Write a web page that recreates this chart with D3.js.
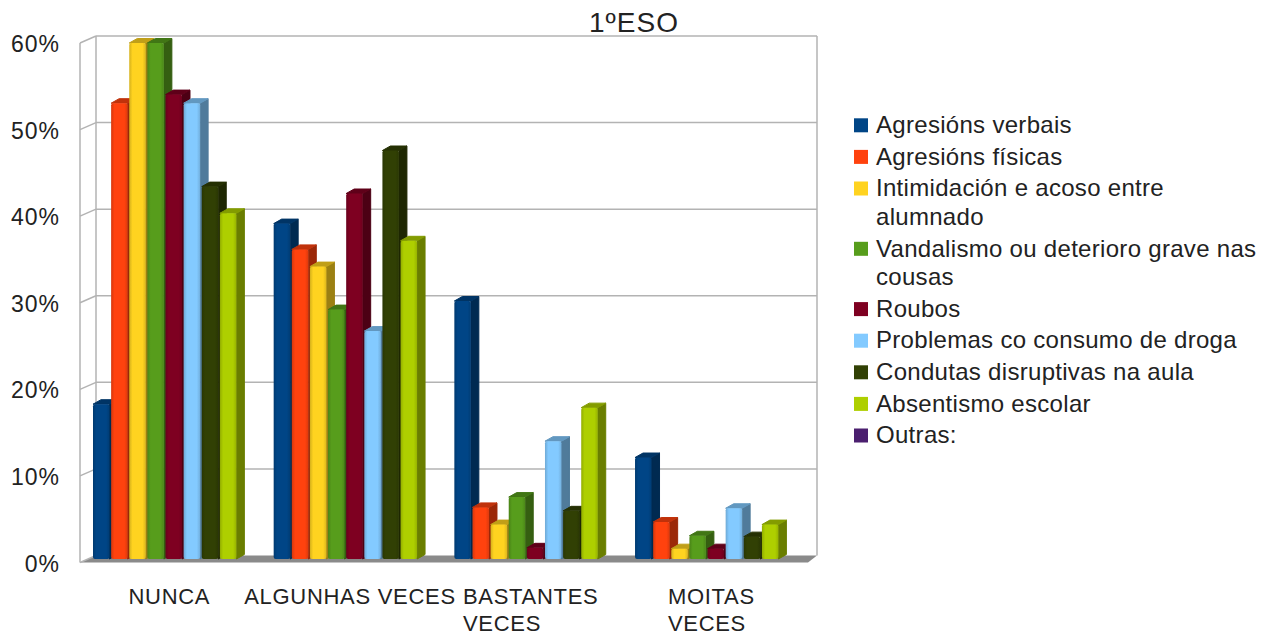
<!DOCTYPE html>
<html>
<head>
<meta charset="utf-8">
<script src="https://cdn.jsdelivr.net/npm/d3@7"></script>
<style>
  body { margin: 0; background: #fff; }
  text { font-family: "Liberation Sans", Arial, sans-serif; fill: #222; }
</style>
</head>
<body>
<div class="chart"></div>
<script>
var categories = [["NUNCA"], ["ALGUNHAS VECES"], ["BASTANTES", "VECES"], ["MOITAS", "VECES"]];
var seriesNames = ["Agresións verbais", "Agresións físicas", "Intimidación e acoso entre alumnado",
  "Vandalismo ou deterioro grave nas cousas", "Roubos", "Problemas co consumo de droga",
  "Condutas disruptivas na aula", "Absentismo escolar", "Outras:"];
var palette = ["#004586", "#ff420e", "#ffd320", "#579d1c", "#7e0021", "#83caff", "#314004", "#aecf00", "#4b1f6f"];

// percent per category, one array per series
var agresionsVerbais   = [18, 39, 30, 11.8];
var agresionsFisicas   = [53, 36, 6, 4.3];
var intimidacion       = [60, 34, 4, 1.2];
var vandalismo         = [60, 29, 7.2, 2.7];
var roubos             = [54, 42.5, 1.3, 1.2];
var drogas             = [53, 26.5, 13.7, 5.9];
var condutas           = [43.3, 47.5, 5.6, 2.6];
var absentismo         = [40.2, 37, 17.6, 4];
var outras             = [0, 0, 0, 0];
var yTicks = [0, 10, 20, 30, 40, 50, 60];

var seriesValues = [agresionsVerbais, agresionsFisicas, intimidacion, vandalismo, roubos,
  drogas, condutas, absentismo, outras];

var w = 1261, h = 635;
var svg = d3.select('.chart').append('svg').attr('width', w).attr('height', h);

var catKeys = categories.map(function (c) { return c.join(' '); });
var x0 = d3.scaleBand().domain(catKeys).range([80, 802.7]);
var x1 = d3.scaleBand().domain(seriesNames).range([13, 174.5]).paddingInner(0.09);
var yWall = d3.scaleLinear().domain([0, 60]).range([555.5, 36]);
var yBar = d3.scaleLinear().domain([0, 60]).range([559, 43]);

var dx = 16, dy = 7;       // side wall depth
var bdx = 8, bdy = 4.5;    // bar depth

var grid = '#b3b3b3';
var wall = svg.append('g');

// floor
var wl = 96, wr = 817;
wall.append('path')
  .attr('d', 'M' + wl + ',' + yWall(0) + 'L' + wr + ',' + yWall(0) + 'L' + (wr - 9) + ',' + (yWall(0) + dy) +
       'L' + (wl - dx) + ',' + (yWall(0) + dy) + 'Z')
  .attr('fill', '#8a8a8a');

// gridlines on back wall and slants on side wall
wall.selectAll('.grid').data(yTicks.slice(1)).enter().append('line')
  .attr('x1', wl).attr('x2', wr)
  .attr('y1', function (d) { return yWall(d); })
  .attr('y2', function (d) { return yWall(d); })
  .attr('stroke', grid).attr('stroke-width', 1.5);
wall.selectAll('.slant').data(yTicks).enter().append('line')
  .attr('x1', wl - dx).attr('x2', wl)
  .attr('y1', function (d) { return yWall(d) + dy; })
  .attr('y2', function (d) { return yWall(d); })
  .attr('stroke', grid).attr('stroke-width', 1.5);
wall.append('line').attr('x1', wl).attr('x2', wl).attr('y1', yWall(60)).attr('y2', yWall(0))
  .attr('stroke', grid).attr('stroke-width', 1.5);
wall.append('line').attr('x1', wr).attr('x2', wr).attr('y1', yWall(60)).attr('y2', yWall(0))
  .attr('stroke', grid).attr('stroke-width', 1.5);
wall.append('line').attr('x1', wl - dx).attr('x2', wl - dx).attr('y1', yWall(60) + dy).attr('y2', yWall(0) + dy)
  .attr('stroke', grid).attr('stroke-width', 1.5);

// y tick labels
svg.selectAll('.ytick').data(yTicks).enter().append('text')
  .attr('x', 60).attr('y', function (d) { return yWall(d) + 16; })
  .attr('text-anchor', 'end').attr('font-size', 23).attr('letter-spacing', 1)
  .text(function (d) { return d + '%'; });

// gradients for bar fronts
var defs = svg.append('defs');
palette.forEach(function (c, i) {
  var g = defs.append('linearGradient').attr('id', 'g' + i);
  var col = d3.color(c);
  g.append('stop').attr('offset', '0%').attr('stop-color', col.darker(0.5));
  g.append('stop').attr('offset', '20%').attr('stop-color', c);
  g.append('stop').attr('offset', '80%').attr('stop-color', c);
  g.append('stop').attr('offset', '100%').attr('stop-color', col.darker(0.4));
});

// bars
var bars = [];
catKeys.forEach(function (cat, ci) {
  seriesNames.forEach(function (s, si) {
    bars.push({cat: cat, series: s, si: si, v: seriesValues[si][ci]});
  });
});
var bw = x1.bandwidth();
var bar = svg.selectAll('.bar').data(bars.filter(function (d) { return d.v > 0; }))
  .enter().append('g').attr('class', 'bar');

bar.append('path')  // side
  .attr('d', function (d) {
    var x = x0(d.cat) + x1(d.series) + bw, t = yBar(d.v), b = yBar(0);
    return 'M' + x + ',' + t + 'L' + (x + bdx) + ',' + (t - bdy) + 'L' + (x + bdx) + ',' + (b - bdy) +
      'L' + x + ',' + b + 'Z';
  })
  .attr('fill', function (d) { return d3.color(palette[d.si]).darker(1.4); })
  .attr('stroke', function (d) { return d3.color(palette[d.si]).darker(1.4); })
  .attr('stroke-width', 1).attr('stroke-linejoin', 'round');
bar.append('path')  // top
  .attr('d', function (d) {
    var x = x0(d.cat) + x1(d.series), t = yBar(d.v);
    return 'M' + x + ',' + t + 'L' + (x + bdx) + ',' + (t - bdy) + 'L' + (x + bw + bdx) + ',' + (t - bdy) +
      'L' + (x + bw) + ',' + t + 'Z';
  })
  .attr('fill', function (d) { return d3.color(palette[d.si]).darker(0.8); })
  .attr('stroke', function (d) { return d3.color(palette[d.si]).darker(0.8); })
  .attr('stroke-width', 1).attr('stroke-linejoin', 'round');
bar.append('rect')  // front
  .attr('x', function (d) { return x0(d.cat) + x1(d.series); })
  .attr('y', function (d) { return yBar(d.v); })
  .attr('width', bw)
  .attr('height', function (d) { return yBar(0) - yBar(d.v); })
  .attr('rx', 2)
  .attr('fill', function (d) { return 'url(#g' + d.si + ')'; });

// category labels: block centred, lines left aligned
catKeys.forEach(function (cat, ci) {
  var lines = categories[ci];
  var g = svg.append('g');
  var texts = g.selectAll('text').data(lines).enter().append('text')
    .attr('font-size', 22).attr('letter-spacing', 0.7)
    .attr('y', function (d, i) { return 604 + i * 27; })
    .text(function (d) { return d; });
  var maxW = 0;
  texts.each(function () { maxW = Math.max(maxW, this.getComputedTextLength()); });
  var cx = x0(cat) + x0.bandwidth() / 2 - 1;
  texts.attr('x', cx - maxW / 2);
});

// title
svg.append('text').attr('x', 634).attr('y', 31.5).attr('text-anchor', 'middle')
  .attr('font-size', 28).attr('letter-spacing', 1).text('1ºESO');

// legend
var lg = svg.append('g');
var ly = 125.3;
seriesNames.forEach(function (name, i) {
  lg.append('rect').attr('x', 854).attr('y', ly - 7).attr('width', 14).attr('height', 14)
    .attr('fill', palette[i]);
  var words = name.split(' '), line = [], lines = [];
  var t = lg.append('text').attr('font-size', 24).attr('letter-spacing', 0.3);
  words.forEach(function (wd) {
    line.push(wd);
    t.text(line.join(' '));
    if (t.node().getComputedTextLength() > 384 && line.length > 1) {
      line.pop();
      lines.push(line.join(' '));
      line = [wd];
    }
  });
  lines.push(line.join(' '));
  t.remove();
  lines.forEach(function (l, k) {
    lg.append('text').attr('x', 876).attr('y', ly + 7.7 + k * 28.7)
      .attr('font-size', 24).attr('letter-spacing', 0.3).text(l);
  });
  ly += 31.6 + (lines.length - 1) * 28.7;
});
</script>
</body>
</html>
